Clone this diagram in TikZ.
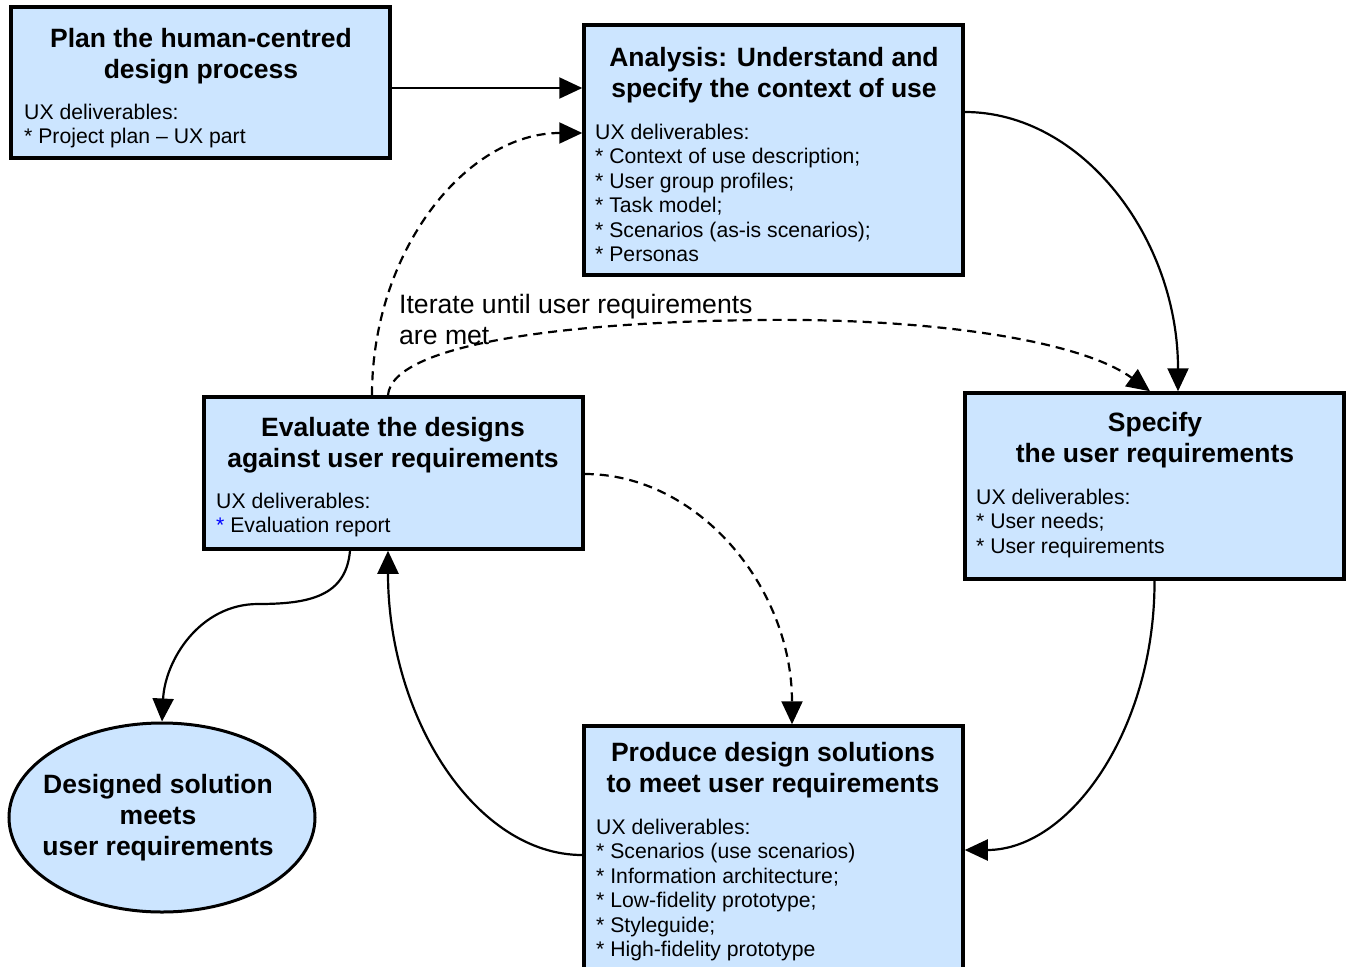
\documentclass[tikz,border=0pt]{standalone}
\usepackage{fontspec}
\setmainfont{Liberation Sans}
\usetikzlibrary{arrows.meta,shapes.geometric}
\definecolor{boxblue}{RGB}{204,229,255}
\begin{document}
\begin{tikzpicture}[x=1pt,y=-1pt,
  box/.style={draw, line width=3.5pt, fill=boxblue, rectangle, inner sep=0pt, minimum width=379pt},
  ttl/.style={font=\fontsize{26.5}{31}\selectfont\bfseries, align=center, anchor=north, inner sep=0pt},
  body/.style={font=\fontsize{21.2}{24.5}\selectfont, align=left, anchor=north west, inner sep=0pt},
  conn/.style={line width=2.2pt, -{Triangle[length=23pt,width=21pt]}},
  dconn/.style={conn, dash pattern=on 9pt off 6pt}]
\clip (0,0) rectangle (1351,966);
\fill[white] (0,0) rectangle (1351,966);

% boxes
\node[box, minimum height=151pt] (A) at (200.5,82.5) {};
\node[box, minimum height=250pt] (B) at (773.5,150) {};
\node[box, minimum height=186pt] (C) at (1154.5,486) {};
\node[box, minimum height=152pt] (E) at (393.5,473) {};
\node[box, minimum height=264pt] (D) at (773.5,858) {};
\node[ellipse, draw, line width=3pt, fill=boxblue, minimum width=306pt, minimum height=189pt, inner sep=0pt] (F) at (162,817.5) {};

% texts
\node[ttl] (Ft) at (158,774.5) {Designed solution\\meets\\user requirements};
\node[ttl] (At) at (201,28.5) {Plan the human-centred\\design process};
\node[body] (Ab) at (24,103.5) {UX deliverables:\\* Project plan \textendash{} UX part};

\node[ttl] (Bt) at (774,47.5) {Analysis: Understand and\\specify the context of use};
\node[body] (Bb) at (595,123.5) {UX deliverables:\\* Context of use description;\\* User group profiles;\\* Task model;\\* Scenarios (as-is scenarios);\\* Personas};

\node[ttl] (Ct) at (1155,412.5) {Specify\\the user requirements};
\node[body] (Cb) at (976,488.5) {UX deliverables:\\* User needs;\\* User requirements};

\node[ttl] (Et) at (393,417.5) {Evaluate the designs\\against user requirements};
\node[body] (Eb) at (216,492.5) {UX deliverables:\\{\color{blue}*} Evaluation report};

\node[ttl] (Dt) at (773,742.5) {Produce design solutions\\to meet user requirements};
\node[body] (Db) at (596,818.5) {UX deliverables:\\* Scenarios (use scenarios)\\* Information architecture;\\* Low-fidelity prototype;\\* Styleguide;\\* High-fidelity prototype};

\node[font=\fontsize{26.6}{31}\selectfont, align=left, anchor=north west, inner sep=0pt] (L) at (399,294.5)
  {Iterate until user requirements\\are met};

% connectors
\coordinate (m) at (258,604);
\coordinate (it) at (760,320);

\draw[conn] ([yshift=-5.5pt]A.east) -- ([yshift=62pt]B.west);
\draw[conn] ([yshift=38pt]B.east) .. controls (1082,112) and (1178,238) .. ([xshift=23.5pt]C.north);
\draw[conn] (C.south) .. controls (1155,729) and (1070,850) .. ([yshift=8pt]D.east);
\draw[conn] ([yshift=3pt]D.west) .. controls (476,855) and (388,718) .. ([xshift=-5.5pt]E.south);
\draw[conn] ([xshift=-43.5pt]E.south) .. controls (346,596) and (310,604) .. (m)
            .. controls (200,604) and (165,660) .. (F.north);
\draw[dconn] ([xshift=-21.5pt]E.north) .. controls (372,251) and (466,133) .. ([yshift=17pt]B.west);
\draw[dconn] ([xshift=-5.5pt]E.north) .. controls (392,345) and (560,322) .. (it)
            .. controls (930,318) and (1080,340) .. ([xshift=-4.5pt]C.north);
\draw[dconn] ([yshift=-1pt]E.east) .. controls (698,474) and (792,587) .. ([xshift=18.5pt]D.north);
\end{tikzpicture}
\end{document}
